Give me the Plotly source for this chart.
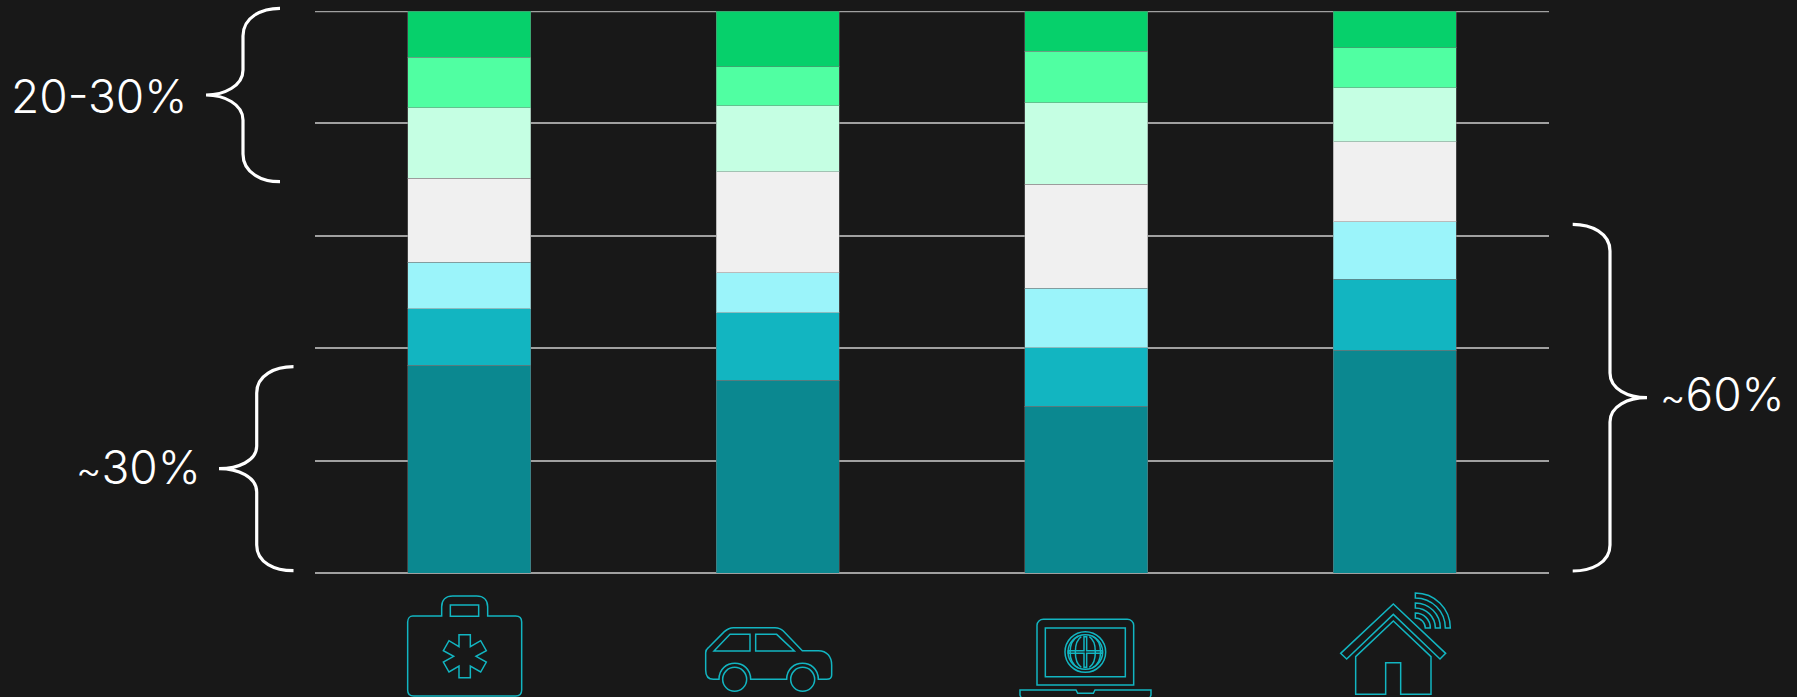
import re
import plotly.graph_objects as go

W, H = 1797, 697
L, R, T, B = 315, 1549, 11, 573

categories = ["Health", "Auto", "Technology", "Home"]
seg1 = [37.0, 34.3, 29.7, 39.6]
seg2 = [10.0, 12.0, 10.4, 12.7]
seg3 = [8.3, 7.1, 10.6, 10.2]
seg4 = [14.9, 18.0, 18.5, 14.2]
seg5 = [12.6, 11.7, 14.5, 9.6]
seg6 = [9.0, 7.0, 9.1, 7.2]
seg7 = [8.2, 9.9, 7.2, 6.5]
segments = [seg1, seg2, seg3, seg4, seg5, seg6, seg7]
colors = ["#0b8890", "#12b5c1", "#9bf4fa", "#f0f0f0", "#c5ffe3", "#50ffa2", "#06d06b"]
labels = ["~30%", "20-30%", "~60%"]

BG = "#181818"
ICON = "#12b5c1"
GRID = "#a0a0a0"


def fx(x):
    return (x - L) / (R - L)


def fy(y):
    return (B - y) / (B - T)


def paper_path(d, ox=0.0, oy=0.0, s=1.0):
    """Convert a path written in pixels to paper coordinates."""
    tokens = re.findall(r"[MLCQZ]|-?\d+\.?\d*", d)
    out, is_x = [], True
    for t in tokens:
        if t in "MLCQZ":
            out.append(t)
            is_x = True
        elif is_x:
            out.append(f"{fx(ox + float(t) * s):.5f}")
            is_x = False
        else:
            out.append(f"{fy(oy + float(t) * s):.5f}")
            is_x = True
    return " ".join(out)


def circle(cx, cy, r):
    k = 0.5523 * r
    return (f"M {cx-r} {cy} C {cx-r} {cy-k} {cx-k} {cy-r} {cx} {cy-r} "
            f"C {cx+k} {cy-r} {cx+r} {cy-k} {cx+r} {cy} "
            f"C {cx+r} {cy+k} {cx+k} {cy+r} {cx} {cy+r} "
            f"C {cx-k} {cy+r} {cx-r} {cy+k} {cx-r} {cy} Z")


def band(cx, cy, ro, ri):
    k = 0.5523
    return (f"M {cx} {cy-ro} C {cx+ro*k} {cy-ro} {cx+ro} {cy-ro*k} {cx+ro} {cy} "
            f"L {cx+ri} {cy} C {cx+ri} {cy-ri*k} {cx+ri*k} {cy-ri} {cx} {cy-ri} Z")


shapes = [dict(type="line", xref="paper", yref="y", x0=0, x1=1, y0=100, y1=100, layer="below",
               line=dict(color=GRID, width=2.4))]


def icon(d, ox, oy, s=1 / 3):
    shapes.append(dict(type="path", xref="paper", yref="paper", layer="above",
                       path=paper_path(d, ox, oy, s),
                       line=dict(color=ICON, width=1.5)))


def brace(d):
    shapes.append(dict(type="path", xref="paper", yref="paper", layer="above",
                       path=paper_path(d), line=dict(color="#ffffff", width=3.2)))


# Braces
brace("M 280 8.3 C 262 8.3 243 17 243 36 L 243 70 C 243 86 224 95 206 95 "
      "C 224 95 243 104 243 120 L 243 154 C 243 173 262 181.7 280 181.7")
brace("M 293.5 366.7 C 275 366.7 256.7 375 256.7 393 L 256.7 446 C 256.7 461 238 468.7 219 468.7 "
      "C 238 468.7 256.7 477 256.7 492 L 256.7 545 C 256.7 563 275 570.7 293.5 570.7")
brace("M 1572.7 224.3 C 1591 224.3 1610 233 1610 251 L 1610 373 C 1610 389 1628 397.7 1647 397.7 "
      "C 1628 397.7 1610 406 1610 422 L 1610 545 C 1610 563 1591 571 1572.7 571")

# Medical kit
o = (400, 590)
icon("M 38 78 L 125 78 L 125 50 C 125 30 138 18 158 18 L 230 18 C 250 18 263 30 263 50 L 263 78 "
     "L 347 78 C 358 78 365 85 365 96 L 365 300 C 365 311 358 318 347 318 L 41 318 "
     "C 30 318 23 311 23 300 L 23 96 C 23 85 30 78 38 78 Z", *o)
icon("M 151 45 L 236 45 L 236 79 L 151 79 Z", *o)
icon("M 177 134 L 211 134 L 211 170 L 242 152 L 259 182 L 228 199 L 259 216 L 242 246 L 211 228 "
     "L 211 263 L 177 263 L 177 228 L 147 246 L 130 216 L 161 199 L 130 182 L 147 152 L 177 170 Z", *o)

# Car
o = (695, 620)
icon("M 72 178 L 55 178 C 40 178 32 168 32 150 L 32 98 C 32 92 35 87 40 83 L 88 35 C 97 27 105 23 115 23 "
     "L 240 23 C 252 23 259 27 265 33 L 322 92 L 370 92 C 396 92 410 110 410 135 L 410 165 "
     "C 410 174 404 178 395 178 L 370 178 C 370 114 275 114 275 178 L 167 178 C 167 114 72 114 72 178 Z", *o)
icon(circle(119, 178, 36), *o)
icon(circle(323, 178, 36), *o)
icon("M 57 93 L 105 43 L 165 43 L 165 93 Z", *o)
icon("M 182 43 L 245 43 L 298 93 L 182 93 Z", *o)

# Laptop
o = (1010, 610)
icon("M 81 225 L 81 46 C 81 35 90 28 100 28 L 352 28 C 362 28 371 35 371 46 L 371 225 Z", *o)
icon("M 106 54 L 346 54 L 346 200 L 106 200 Z", *o)
icon(circle(226, 126, 61), *o)
icon(circle(226, 126, 52), *o)
icon("M 175 122 L 222 122 L 222 80 L 230 80 L 230 122 L 277 122 L 277 130 L 230 130 L 230 172 "
     "L 222 172 L 222 130 L 175 130 Z", *o)
icon("M 214 80 C 190 95 190 157 214 172", *o)
icon("M 238 80 C 262 95 262 157 238 172", *o)
icon("M 205 78 C 172 95 172 157 205 174", *o)
icon("M 247 78 C 280 95 280 157 247 174", *o)
icon("M 30 240 L 198 240 L 203 250 L 250 250 L 255 240 L 423 240 L 423 255 L 419 265 L 34 265 L 30 255 Z", *o)

# Home
o = (1330, 585)
icon("M 190 57 L 347 205 L 330 222 L 190 88 L 50 222 L 32 205 Z", *o)
icon("M 77 215 L 190 108 L 303 215 L 303 328 L 212 328 L 212 233 L 167 233 L 167 328 L 77 328 Z", *o)
icon(band(256, 129, 105, 90), *o)
icon(band(256, 129, 75, 60), *o)
icon(band(256, 129, 45, 30), *o)

fig = go.Figure()
for vals, c in zip(segments, colors):
    fig.add_trace(go.Bar(x=categories, y=vals,
                         marker=dict(color=c, line=dict(color="rgba(120,120,120,0.45)", width=1)),
                         width=0.4, showlegend=False))


def note(text, x, y, anchor):
    if text.startswith("~"):
        text = '<span style="font-size:39px">~</span>' + text[1:]
    return dict(text=text, xref="paper", yref="paper", x=fx(x), y=fy(y), xanchor=anchor, yanchor="middle",
                showarrow=False, font=dict(family="Inter", size=46, color="#ffffff", weight=300))


fig.update_layout(
    width=W, height=H, autosize=False, barmode="stack",
    paper_bgcolor=BG, plot_bgcolor=BG,
    margin=dict(l=L, r=W - R, t=T, b=H - B, pad=0),
    xaxis=dict(showticklabels=False, showgrid=False, zeroline=False, ticks="", range=[-0.5, 3.5], showline=False),
    yaxis=dict(range=[0, 100], tick0=0, dtick=20, showticklabels=False, ticks="", showgrid=True,
               gridcolor=GRID, gridwidth=2.4, zeroline=True, zerolinecolor=GRID, zerolinewidth=2.4, showline=False),
    shapes=shapes,
    annotations=[note(labels[1], 188.5, 96, "right"),
                 note(labels[0], 202.5, 467, "right"),
                 note(labels[2], 1658, 394, "left")],
)

fig.write_html("out.html", post_script="document.body.style.margin='0';document.documentElement.style.overflow='hidden';",
               config=dict(displayModeBar=False))
